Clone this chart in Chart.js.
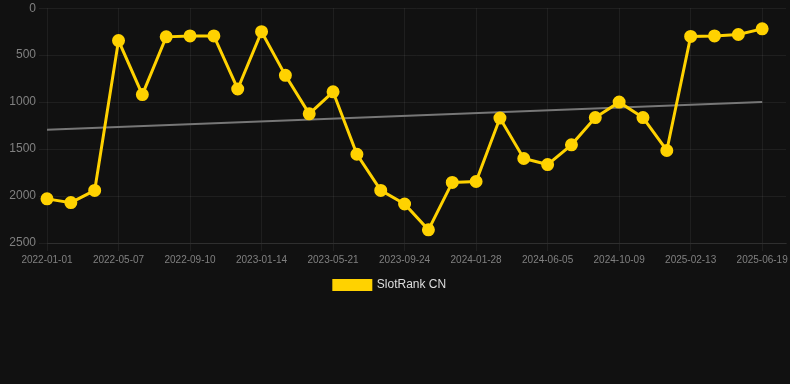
<!DOCTYPE html>
<html>
<head>
<meta charset="utf-8">
<script src="https://cdn.jsdelivr.net/npm/chart.js@4/dist/chart.umd.min.js"></script>
<style>
  html, body { margin: 0; padding: 0; background: #111111; overflow: hidden; }
  #wrap { width: 810px; height: 303px; margin-top: -2px; margin-left: -15px; }
</style>
</head>
<body>
<div id="wrap"><canvas id="myChart"></canvas></div>
<script>
// dates of each observation (one point every ~6 weeks)
const dates = [
  '2022-01-01', '2022-02-12', '2022-03-26', '2022-05-07', '2022-06-18', '2022-07-30',
  '2022-09-10', '2022-10-22', '2022-12-03', '2023-01-14', '2023-02-25', '2023-04-09',
  '2023-05-21', '2023-07-02', '2023-08-13', '2023-09-24', '2023-11-05', '2023-12-17',
  '2024-01-28', '2024-03-11', '2024-04-23', '2024-06-05', '2024-07-17', '2024-08-28',
  '2024-10-09', '2024-11-20', '2025-01-01', '2025-02-13', '2025-03-27', '2025-05-08',
  '2025-06-19', ''
];

// rank values
const rankCN = [
  2030, 2070, 1940, 345, 920, 305,
  295, 295, 860, 250, 715, 1125,
  890, 1555, 1940, 2085, 2360, 1855,
  1845, 1170, 1600, 1665, 1455, 1165,
  1000, 1165, 1515, 300, 295, 280,
  220, null
];

// trend line, only its two ends
const trend = [1295].concat(new Array(29).fill(null), [1000, null]);

const ctx = document.getElementById('myChart').getContext('2d');
const myChart = new Chart(ctx, {
  type: 'line',
  data: {
    labels: dates,
    datasets: [{
      label: 'SlotRank CN',
      data: rankCN,
      borderColor: '#FFD200',
      backgroundColor: '#FFD200',
      borderWidth: 3,
      pointRadius: 5,
      pointHoverRadius: 6,
      tension: 0
    }, {
      label: 'trend',
      data: trend,
      spanGaps: true,
      borderColor: '#777777',
      borderWidth: 2,
      pointRadius: 0,
      tension: 0
    }]
  },
  options: {
    responsive: true,
    maintainAspectRatio: false,
    animation: false,
    scales: {
      x: {
        offset: false,
        grid: { color: 'rgba(255,255,255,0.06)', tickLength: 8 },
        border: { color: 'rgba(255,255,255,0.08)' },
        ticks: {
          color: '#808080',
          font: { size: 10, family: 'Helvetica, Arial, sans-serif' },
          autoSkip: false,
          maxRotation: 0,
          callback: function (val, i) {
            return (i % 3 === 0 && dates[i]) ? dates[i] : null;
          }
        }
      },
      y: {
        reverse: true,
        min: 0,
        max: 2500,
        grid: { color: 'rgba(255,255,255,0.06)', tickLength: 8 },
        border: { display: false },
        afterFit: s => { s.width = 62; },
        ticks: {
          stepSize: 500,
          color: '#808080',
          font: { size: 12, family: 'Helvetica, Arial, sans-serif' },
          callback: v => String(v)
        }
      }
    },
    plugins: {
      legend: {
        position: 'bottom',
        labels: {
          color: '#dddddd',
          font: { size: 12, family: 'Helvetica, Arial, sans-serif' },
          boxWidth: 37,
          boxHeight: 9,
          filter: item => item.text !== 'trend'
        }
      },
      tooltip: { enabled: false }
    }
  }
});
</script>
</body>
</html>
